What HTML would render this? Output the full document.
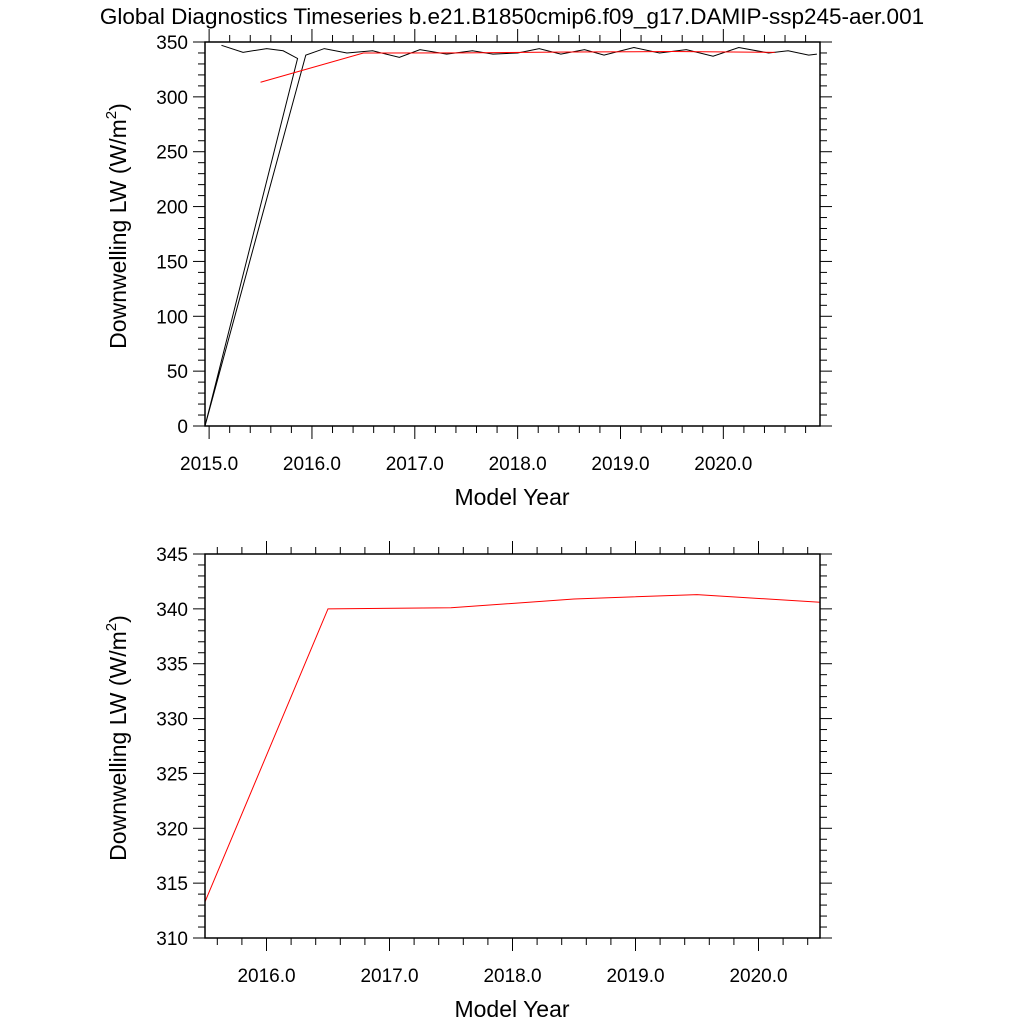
<!DOCTYPE html>
<html><head><meta charset="utf-8">
<style>
html,body{margin:0;padding:0;background:#fff;}
svg text{font-family:"Liberation Sans",Helvetica,Arial,sans-serif;fill:#000;}
</style></head>
<body>
<svg id="chart" width="1024" height="1024" viewBox="0 0 1024 1024" xmlns="http://www.w3.org/2000/svg">
<rect width="1024" height="1024" fill="#fff"/>
<text x="512" y="24" font-size="22.5" text-anchor="middle">Global Diagnostics Timeseries b.e21.B1850cmip6.f09_g17.DAMIP-ssp245-aer.001</text>
<g id="top"></g>
<g id="bot"></g>
</svg>
<script>
// Top panel: monthly black series (times in model years, values W/m^2)
const topMonthlyTimes = [2015.12,2015.33,2015.56,2015.72,2015.86,2014.96,2015.94,2016.12,2016.34,2016.59,2016.85,2017.05,2017.31,2017.56,2017.76,2018.0,2018.21,2018.42,2018.65,2018.84,2019.13,2019.38,2019.64,2019.9,2020.15,2020.44,2020.63,2020.83,2020.91];
const topMonthlyValues = [347,340.6,344,342,335,0,338,344,340,342,336,343,339,342,339,340,344,339,343,338,345,340,343,337,345,340,342,338,339];
// Annual means (red)
const annualTimes = [2015.5,2016.5,2017.5,2018.5,2019.5,2020.5];
const annualValues = [313.3,340.0,340.1,340.9,341.3,340.6];
const topYTicks = [0,50,100,150,200,250,300,350];
const topXTicks = [2015,2016,2017,2018,2019,2020];
const botYTicks = [310,315,320,325,330,335,340,345];
const botXTicks = [2016,2017,2018,2019,2020];

const NS="http://www.w3.org/2000/svg";
function mk(parent,tag,attrs){const e=document.createElementNS(NS,tag);for(const k in attrs)e.setAttribute(k,attrs[k]);parent.appendChild(e);return e;}

function panel(g,cfg){
  const L=205,R=820,T=cfg.top,B=cfg.top+384;
  const xs=t=>L+(t-cfg.x0)/(cfg.x1-cfg.x0)*(R-L);
  const ys=v=>B-(v-cfg.y0)/(cfg.y1-cfg.y0)*(B-T);
  for(let v=cfg.y0;v<=cfg.y1+1e-9;v+=cfg.yMinor){
    const major=Math.abs(((v-cfg.y0)/cfg.yMajor)-Math.round((v-cfg.y0)/cfg.yMajor))<1e-6;
    const len=major?12:7;
    const tl=mk(g,'line',{x1:L-len,x2:L,y1:ys(v),y2:ys(v),stroke:'#000','stroke-width':1});
    
    
    const tr=mk(g,'line',{x1:R,x2:R+len,y1:ys(v),y2:ys(v),stroke:'#000','stroke-width':1});
    
    
  }
  const start=Math.ceil(cfg.x0*5-1e-9)/5;
  for(let t=start;t<=cfg.x1+1e-9;t+=0.2){
    const major=Math.abs(t-Math.round(t))<1e-6;
    const len=major?13:7;
    const tb=mk(g,'line',{x1:xs(t),x2:xs(t),y1:B,y2:B+len,stroke:'#000','stroke-width':1});
    
    
    const tt=mk(g,'line',{x1:xs(t),x2:xs(t),y1:T-len,y2:T,stroke:'#000','stroke-width':1});
    
    
  }
  cfg.yTicks.forEach(v=>{
    const tx=mk(g,'text',{x:L-17,y:ys(v)+7,'font-size':19,'text-anchor':'end'});
    
    
    tx.textContent=String(v);
  });
  cfg.xTicks.forEach(t=>{
    const tx=mk(g,'text',{x:xs(t),y:B+44,'font-size':19,'text-anchor':'middle'});
    
    
    tx.textContent=t.toFixed(1);
  });
  if(cfg.black){
    const pl=mk(g,'polyline',{points:cfg.black[0].map((t,i)=>xs(t)+','+ys(cfg.black[1][i])).join(' '),fill:'none',stroke:'#000','stroke-width':1});
    
    
  }
  const rl=mk(g,'polyline',{points:annualTimes.map((t,i)=>xs(t)+','+ys(annualValues[i])).join(' '),fill:'none',stroke:'#ff0000','stroke-width':1});
  
  
  const fr=mk(g,'rect',{x:L,y:T,width:R-L,height:B-T,fill:'none',stroke:'#000','stroke-width':1.5});
  
  
  const xt=mk(g,'text',{x:512,y:B+79,'font-size':23,'text-anchor':'middle'});
  
  
  xt.textContent='Model Year';
  const yt=mk(g,'text',{x:0,y:0,'font-size':23,'text-anchor':'middle',transform:`translate(126,${(T+B)/2-8}) rotate(-90)`});
  
  
  yt.innerHTML='Downwelling LW (W/m<tspan font-size="15" dy="-10">2</tspan><tspan dy="10">)</tspan>';
}
panel(document.getElementById('top'),{top:42,x0:2014.96,x1:2020.94,y0:0,y1:350,yMajor:50,yMinor:10,yTicks:topYTicks,xTicks:topXTicks,black:[topMonthlyTimes,topMonthlyValues]});
panel(document.getElementById('bot'),{top:554,x0:2015.5,x1:2020.5,y0:310,y1:345,yMajor:5,yMinor:1,yTicks:botYTicks,xTicks:botXTicks});
</script>
</body></html>
